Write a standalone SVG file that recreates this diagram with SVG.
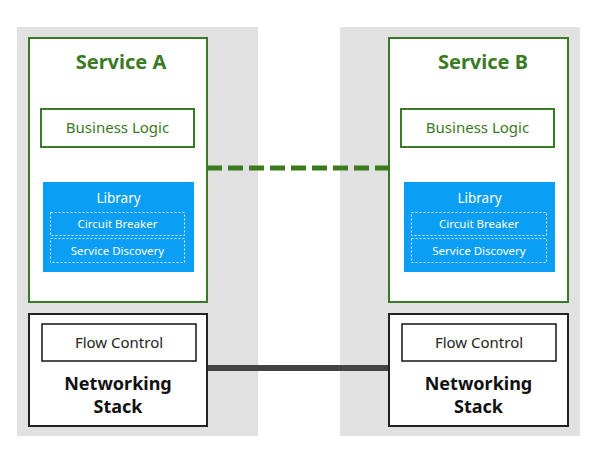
<svg xmlns="http://www.w3.org/2000/svg" width="604" height="450" viewBox="0 0 604 450">
<style>
.panel{fill:#e1e1e1}
.svc{fill:#fff;stroke:#3b7a24;stroke-width:2}
.title{font-family:"Noto Sans","Open Sans",sans-serif;font-weight:bold;font-size:20px;fill:#3b7a24;text-anchor:middle}
.bl{fill:#fff;stroke:#3b7a24;stroke-width:2}
.bltext{font-family:"Noto Sans","Open Sans",sans-serif;font-size:15px;fill:#3b7a24;text-anchor:middle}
.lib{fill:#0a9ef5}
.libtext{font-family:"Noto Sans","Open Sans",sans-serif;font-size:13.5px;fill:#fff;text-anchor:middle}
.dash{fill:none;stroke:#d8efff;stroke-width:1;stroke-dasharray:2 2}
.subtext{font-family:"Noto Sans","Open Sans",sans-serif;font-size:11.5px;fill:#fff;text-anchor:middle}
.net{fill:#fff;stroke:#222;stroke-width:2}
.fc{fill:#fff;stroke:#222;stroke-width:1.6}
.fctext{font-family:"Noto Sans","Open Sans",sans-serif;font-size:15px;fill:#222;text-anchor:middle}
.nettext{font-family:"Noto Sans","Open Sans",sans-serif;font-weight:bold;font-size:18px;fill:#111;text-anchor:middle}
</style>
<rect x="0" y="0" width="604" height="450" fill="#fff"/>
<rect class="panel" x="17" y="27" width="241" height="409"/>
<rect class="panel" x="340" y="27" width="240" height="409"/>
<g id="connectors">
<line x1="207" y1="168" x2="389" y2="168" stroke="#3b7a1e" stroke-width="5" stroke-dasharray="15 6"/>
<line x1="207" y1="368" x2="389" y2="368" stroke="#444" stroke-width="6"/>
</g>
<g id="service-a">
<rect class="svc" x="29" y="38" width="178" height="264"/>
<text class="title" x="121" y="69">Service A</text>
<g id="business-logic-a">
<rect class="bl" x="41" y="109" width="153" height="38"/>
<text class="bltext" x="117.5" y="133">Business Logic</text>
</g>
<g id="library-a">
<rect class="lib" x="43" y="182" width="151" height="90"/>
<text class="libtext" x="118.5" y="203">Library</text>
<rect class="dash" x="50.5" y="212.5" width="134" height="23"/>
<text class="subtext" x="117.5" y="228">Circuit Breaker</text>
<rect class="dash" x="50.5" y="238.5" width="134" height="24"/>
<text class="subtext" x="117.5" y="255">Service Discovery</text>
</g>
</g>
<g id="service-b">
<rect class="svc" x="389" y="38" width="179" height="264"/>
<text class="title" x="483" y="69">Service B</text>
<g id="business-logic-b">
<rect class="bl" x="401" y="109" width="153" height="38"/>
<text class="bltext" x="477.5" y="133">Business Logic</text>
</g>
<g id="library-b">
<rect class="lib" x="404" y="182" width="151" height="90"/>
<text class="libtext" x="479.5" y="203">Library</text>
<rect class="dash" x="411.5" y="212.5" width="135" height="23"/>
<text class="subtext" x="479" y="228">Circuit Breaker</text>
<rect class="dash" x="411.5" y="238.5" width="135" height="24"/>
<text class="subtext" x="479" y="255">Service Discovery</text>
</g>
</g>
<g id="networking-a">
<rect class="net" x="29" y="314" width="178" height="112"/>
<rect class="fc" x="42" y="324" width="154" height="37"/>
<text class="fctext" x="119" y="348">Flow Control</text>
<text class="nettext" x="118" y="390">Networking</text>
<text class="nettext" x="118" y="413">Stack</text>
</g>
<g id="networking-b">
<rect class="net" x="389" y="314" width="179" height="112"/>
<rect class="fc" x="402" y="324" width="154" height="37"/>
<text class="fctext" x="479" y="348">Flow Control</text>
<text class="nettext" x="478.5" y="390">Networking</text>
<text class="nettext" x="478.5" y="413">Stack</text>
</g>
</svg>
